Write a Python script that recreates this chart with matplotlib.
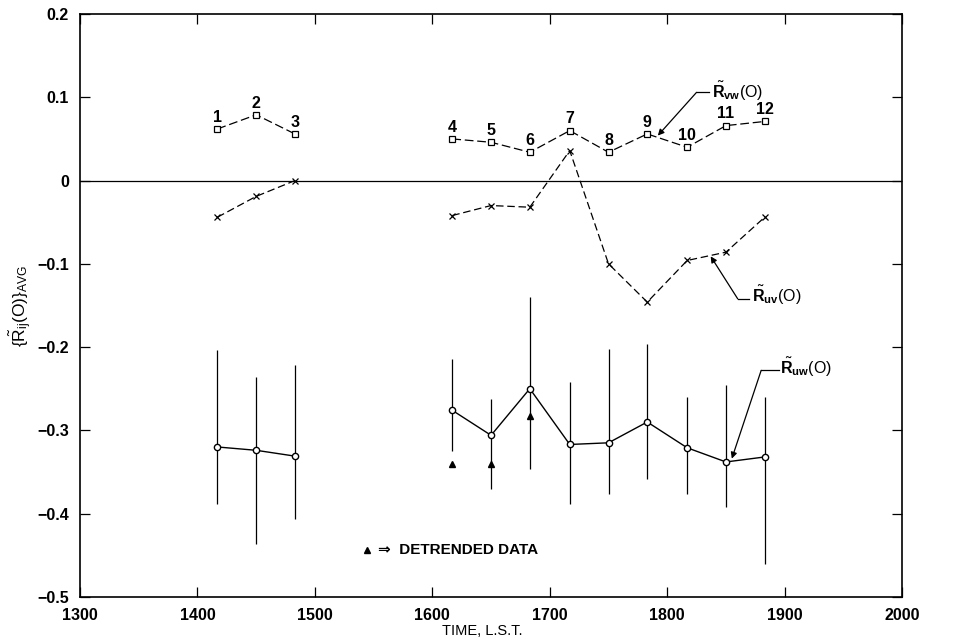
import matplotlib
matplotlib.use("Agg")
import matplotlib.pyplot as plt

plt.rcParams['font.family'] = ['Liberation Sans', 'DejaVu Sans']
plt.rcParams['mathtext.fontset'] = 'custom'
plt.rcParams['mathtext.rm'] = 'Liberation Sans'
plt.rcParams['mathtext.it'] = 'Liberation Sans'
plt.rcParams['mathtext.bf'] = 'Liberation Sans:bold'

# run times (L.S.T.) and run numbers
times = [1417, 1450, 1483, 1617, 1650, 1683, 1717, 1750, 1783, 1817, 1850, 1883]
runs = ['1', '2', '3', '4', '5', '6', '7', '8', '9', '10', '11', '12']

# averaged correlation coefficients at zero lag
r_vw = [0.062, 0.079, 0.056, 0.050, 0.046, 0.034, 0.060, 0.034, 0.056, 0.040, 0.066, 0.071]
r_uv = [-0.044, -0.019, 0.000, -0.042, -0.030, -0.032, 0.036, -0.100, -0.146, -0.096, -0.086, -0.044]
r_uw = [-0.320, -0.324, -0.331, -0.276, -0.306, -0.250, -0.317, -0.315, -0.290, -0.321, -0.338, -0.332]

# spread of r_uw within each run
uw_top = [-0.204, -0.236, -0.222, -0.214, -0.262, -0.140, -0.242, -0.202, -0.196, -0.260, -0.246, -0.260]
uw_bot = [-0.388, -0.437, -0.406, -0.325, -0.370, -0.346, -0.389, -0.376, -0.358, -0.376, -0.392, -0.460]

# detrended r_uw for runs 4-6
det_times = [1617, 1650, 1683]
det_uw = [-0.340, -0.340, -0.283]

segments = [slice(0, 3), slice(3, 12)]

fig = plt.figure(figsize=(9.7, 6.39), dpi=100)
ax = fig.add_axes([0.0825, 0.066, 0.8475, 0.912])

ax.axhline(0, color='black', lw=0.9)

for s in segments:
    ax.plot(times[s], r_vw[s], color='black', lw=0.9, ls=(0, (7, 3)),
            marker='s', ms=4, mfc='white', mec='black', mew=0.9)
    ax.plot(times[s], r_uv[s], color='black', lw=0.9, ls=(0, (6, 3)),
            marker='x', ms=4, mew=0.9)
    ax.plot(times[s], r_uw[s], color='black', lw=1.0,
            marker='o', ms=4.5, mfc='white', mec='black', mew=1.0, zorder=4)

ax.vlines(times, uw_bot, uw_top, color='black', lw=0.9)
ax.plot(det_times, det_uw, ls='none', marker='^', ms=5, color='black')

for t, v, lab in zip(times, r_vw, runs):
    ax.text(t, v + 0.005, lab, ha='center', va='bottom', fontsize=11.5,
            fontweight='bold')

# curve labels with leader arrows
arrow = dict(arrowstyle='-|>', color='black', lw=0.9, mutation_scale=9,
             shrinkA=0, shrinkB=0)
ax.annotate('', xy=(1792, 0.054), xytext=(1825, 0.106), arrowprops=arrow)
ax.plot([1825, 1836], [0.106, 0.106], color='black', lw=0.9)
ax.text(1838, 0.107, r'$\tilde{\mathbf{R}}_{\mathbf{vw}}$(O)', fontsize=11.5,
        va='center', ha='left')

ax.annotate('', xy=(1837, -0.091), xytext=(1860, -0.142), arrowprops=arrow)
ax.plot([1860, 1870], [-0.142, -0.142], color='black', lw=0.9)
ax.text(1872, -0.138, r'$\tilde{\mathbf{R}}_{\mathbf{uv}}$(O)', fontsize=11.5,
        va='center', ha='left')

ax.annotate('', xy=(1855, -0.334), xytext=(1880, -0.228), arrowprops=arrow)
ax.plot([1880, 1895], [-0.228, -0.228], color='black', lw=0.9)
ax.text(1896, -0.225, r'$\tilde{\mathbf{R}}_{\mathbf{uw}}$(O)', fontsize=11.5,
        va='center', ha='left')

ax.plot([1544], [-0.444], ls='none', marker='^', ms=4.5, color='black')
ax.text(1554, -0.444, '\u21d2  DETRENDED DATA', fontsize=11, va='center',
        ha='left', fontweight='bold')

ax.set_xlim(1300, 2000)
ax.set_ylim(-0.5, 0.2)
ax.set_xticks([1300, 1400, 1500, 1600, 1700, 1800, 1900, 2000])
ax.set_yticks([-0.5, -0.4, -0.3, -0.2, -0.1, 0, 0.1, 0.2])
ax.set_yticklabels(['\u22120.5', '\u22120.4', '\u22120.3', '\u22120.2',
                    '\u22120.1', '0', '0.1', '0.2'])
ax.tick_params(direction='in', length=7, width=0.9, top=True, right=True,
               labelsize=11.5)
ax.tick_params(axis='x', pad=8)
ax.tick_params(axis='y', pad=8)
for lab in ax.get_xticklabels() + ax.get_yticklabels():
    lab.set_fontweight('bold')
for sp in ax.spines.values():
    sp.set_linewidth(1.2)

fig.text(0.497, 1 - 631 / 639, 'TIME, L.S.T.', fontsize=10.5,
         ha='center', va='center')
ax.set_ylabel(r'$\{\tilde{\mathrm{R}}_{\mathrm{ij}}$(O)$\}_{\mathrm{AVG}}$',
              fontsize=12.5, labelpad=2)

fig.savefig('out.png', dpi=100)
